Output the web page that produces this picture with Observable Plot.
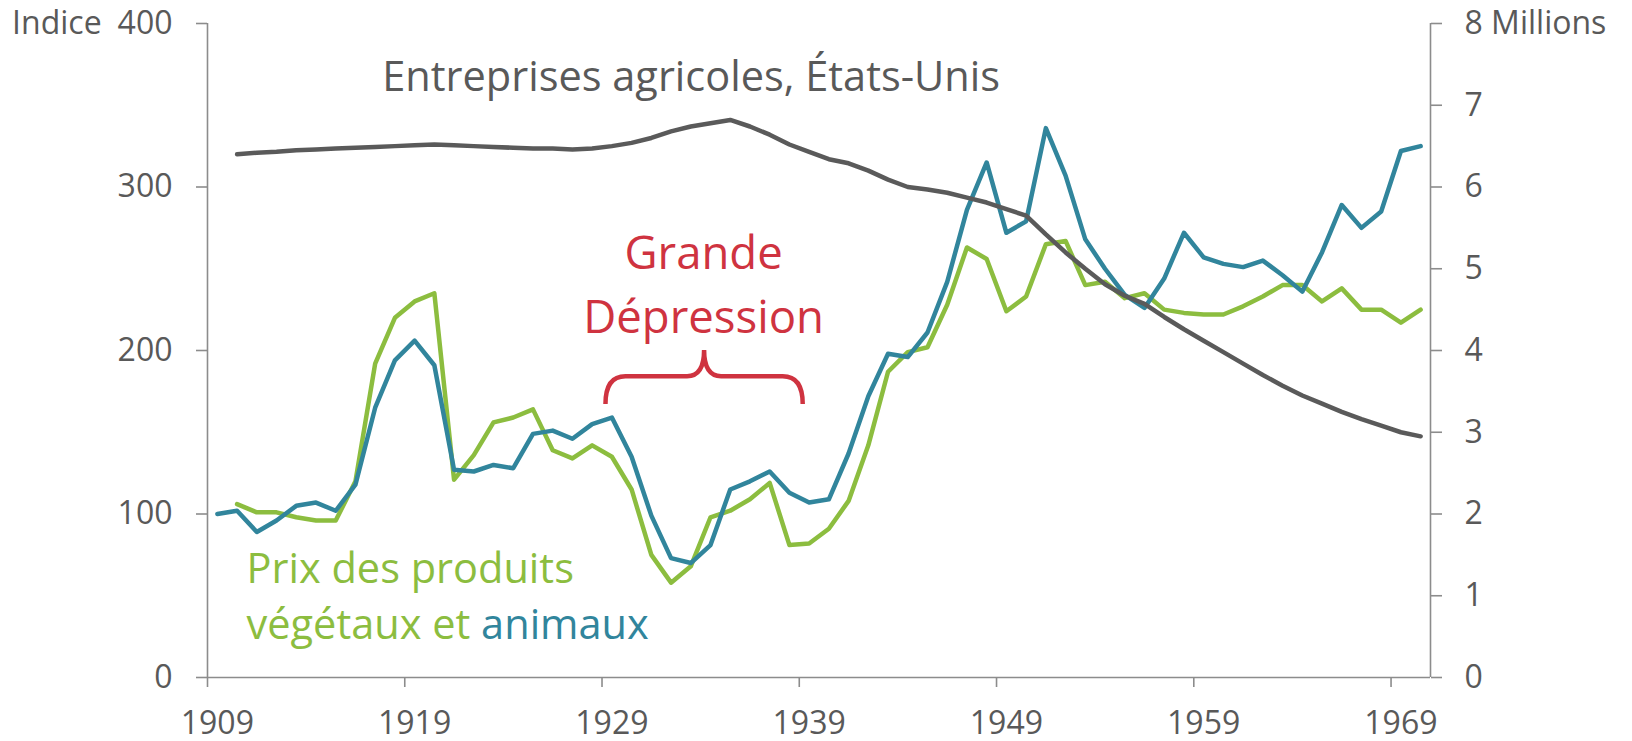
<!DOCTYPE html>
<html>
<head>
<meta charset="utf-8">
<script src="https://cdn.jsdelivr.net/npm/d3@7"></script>
<script src="https://cdn.jsdelivr.net/npm/@observablehq/plot@0.6"></script>
<style>
  html, body { margin: 0; padding: 0; background: #ffffff; }
  #chart svg { display: block; }
</style>
</head>
<body>
<div id="chart"></div>
<script>
// ---------- data ----------
const years = [1909,1910,1911,1912,1913,1914,1915,1916,1917,1918,1919,1920,1921,1922,1923,1924,1925,1926,1927,1928,1929,1930,1931,1932,1933,1934,1935,1936,1937,1938,1939,1940,1941,1942,1943,1944,1945,1946,1947,1948,1949,1950,1951,1952,1953,1954,1955,1956,1957,1958,1959,1960,1961,1962,1963,1964,1965,1966,1967,1968,1969,1970];

// Prix des produits animaux (indice)
const livestock = [100,102,89,96,105,107,102,118,165,194,206,191,127,126,130,128,149,151,146,155,159,135,99,73,70,81,115,120,126,113,107,109,137,172,198,196,211,242,286,315,272,279,336,307,268,250,234,226,244,272,257,253,251,255,246,236,260,289,275,285,322,325];

// Prix des produits végétaux (indice)
const crops = [null,106,101,101,98,96,96,120,192,220,230,235,121,136,156,159,164,139,134,142,135,115,75,58,68,98,102,109,119,81,82,91,108,142,187,199,202,228,263,256,224,233,265,267,240,242,232,235,225,223,222,222,227,233,240,240,230,238,225,225,217,225];

// Entreprises agricoles, États-Unis (millions)
const farms = [null,6.40,6.42,6.43,6.45,6.46,6.47,6.48,6.49,6.50,6.51,6.52,6.51,6.50,6.49,6.48,6.47,6.47,6.46,6.47,6.50,6.54,6.60,6.68,6.74,6.78,6.82,6.74,6.64,6.52,6.43,6.34,6.29,6.20,6.09,6.00,5.97,5.93,5.87,5.81,5.73,5.65,5.42,5.20,5.00,4.81,4.67,4.57,4.41,4.26,4.12,3.98,3.84,3.70,3.57,3.45,3.35,3.25,3.16,3.08,3.00,2.95];

const xTickYears = [1909,1919,1929,1939,1949,1959,1969];
const leftTicks = [0,100,200,300,400];
const rightTicks = [0,1,2,3,4,5,6,7,8];
const depressionSpan = [1929, 1939];

// ---------- styles ----------
const FONT = "'Open Sans', Lato, sans-serif";
const C_TEAL = "#31859C";
const C_GREEN = "#8CBD3F";
const C_GRAY = "#5A5A5A";
const C_RED = "#CF3340";
const C_AXIS = "#8C8C8C";
const C_TEXT = "#595959";
const PER_MILLION = 50; // 8 millions on the right axis = 400 on the left axis

const rows = years.map((year, i) => ({
  year,
  livestock: livestock[i],
  crops: crops[i],
  farms: farms[i]
}));

// category centre (Excel category axis: points sit in the middle of each year's slot)
const xc = d => d.year + 0.5;

const brace = (index, scales) => {
  const x = scales.x, y = scales.y;
  const x0 = x(depressionSpan[0] + 0.2), x1 = x(depressionSpan[1] + 0.2), xm = (x0 + x1) / 2;
  const yb = y(184), yEnd = y(167), yTip = y(200);
  const r = 20, r2 = 17;
  const d = `M${x0},${yEnd} Q${x0},${yb} ${x0 + r},${yb} L${xm - r2},${yb} Q${xm},${yb} ${xm},${yTip} ` +
            `Q${xm},${yb} ${xm + r2},${yb} L${x1 - r},${yb} Q${x1},${yb} ${x1},${yEnd}`;
  const p = document.createElementNS("http://www.w3.org/2000/svg", "path");
  p.setAttribute("d", d);
  p.setAttribute("fill", "none");
  p.setAttribute("stroke", C_RED);
  p.setAttribute("stroke-width", 4.5);
  p.setAttribute("stroke-linecap", "butt");
  return p;
};

const chart = Plot.plot({
  width: 1632,
  height: 741,
  marginLeft: 207,
  marginRight: 202,
  marginTop: 23,
  marginBottom: 64,
  style: { fontFamily: FONT, background: "#ffffff", overflow: "visible" },
  x: { domain: [1909, 1971], axis: null },
  y: { domain: [0, 400], axis: null },
  marks: [
    // axis lines
    Plot.ruleX([1909, 1971], { y1: 0, y2: 400, stroke: C_AXIS, strokeWidth: 1.6 }),
    Plot.ruleY([0], { x1: 1909, x2: 1971, stroke: C_AXIS, strokeWidth: 1.6 }),
    // left axis
    Plot.axisY({
      anchor: "left", ticks: leftTicks, tickSize: 11, tickPadding: 24,
      fontSize: 32, stroke: C_AXIS, strokeWidth: 1.6, fill: C_TEXT,
      tickFormat: d => d === 400 ? "Indice\u2002400" : String(d), label: null
    }),
    // right axis (millions)
    Plot.axisY({
      anchor: "right", ticks: rightTicks.map(v => v * PER_MILLION), tickSize: 11, tickPadding: 23,
      fontSize: 32, stroke: C_AXIS, strokeWidth: 1.6, fill: C_TEXT,
      tickFormat: d => d === 8 * PER_MILLION ? "8 Millions" : String(d / PER_MILLION), label: null
    }),
    // bottom tick marks at category boundaries
    Plot.axisX({
      anchor: "bottom", ticks: xTickYears, tickSize: 10, stroke: C_AXIS, strokeWidth: 1.6,
      tickFormat: () => "", label: null
    }),
    // bottom labels at category centres
    Plot.axisX({
      anchor: "bottom", ticks: xTickYears.map(v => v + 0.5), tickSize: 0, tickPadding: 34,
      fontSize: 32, fill: C_TEXT, tickFormat: d => String(d - 0.5), label: null
    }),
    // series
    Plot.line(rows, { x: xc, y: "crops", stroke: C_GREEN, strokeWidth: 4.5, strokeLinejoin: "round", strokeLinecap: "round" }),
    Plot.line(rows, { x: xc, y: "livestock", stroke: C_TEAL, strokeWidth: 4.5, strokeLinejoin: "round", strokeLinecap: "round" }),
    Plot.line(rows, { x: xc, y: d => d.farms == null ? NaN : d.farms * PER_MILLION, stroke: C_GRAY, strokeWidth: 4.5, strokeLinejoin: "round", strokeLinecap: "round" }),
    // annotations
    Plot.text(["Entreprises agricoles, États-Unis"], { x: 1917.86, y: 358.7, text: d => d, textAnchor: "start", lineAnchor: "bottom", fontSize: 41.5, fill: C_TEXT }),
    Plot.text(["Grande"], { x: 1934.15, y: 249.8, text: d => d, textAnchor: "middle", lineAnchor: "bottom", fontSize: 45.5, fill: C_RED }),
    Plot.text(["Dépression"], { x: 1934.15, y: 210.7, text: d => d, textAnchor: "middle", lineAnchor: "bottom", fontSize: 45.5, fill: C_RED }),
    brace,
    Plot.text(["Prix des produits"], { x: 1910.98, y: 58, text: d => d, textAnchor: "start", lineAnchor: "bottom", fontSize: 41.5, fill: C_GREEN }),
    Plot.text(["végétaux et animaux"], { x: 1910.98, y: 23.3, text: d => d, textAnchor: "start", lineAnchor: "bottom", fontSize: 41.5, fill: C_GREEN })
  ]
});

// colour the word "animaux" like its series
chart.querySelectorAll("text").forEach(t => {
  if (t.textContent === "végétaux et animaux") {
    t.textContent = "";
    const ns = "http://www.w3.org/2000/svg";
    const a = document.createElementNS(ns, "tspan");
    a.textContent = "végétaux et ";
    const b = document.createElementNS(ns, "tspan");
    b.textContent = "animaux";
    b.setAttribute("fill", C_TEAL);
    t.appendChild(a);
    t.appendChild(b);
  }
});

document.getElementById("chart").appendChild(chart);
</script>
</body>
</html>
